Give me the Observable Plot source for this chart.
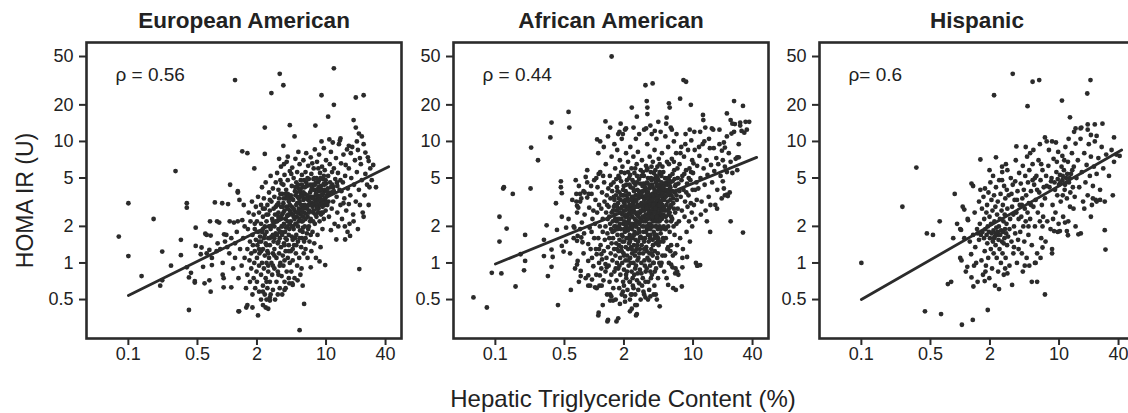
<!DOCTYPE html>
<html><head><meta charset="utf-8">
<script src="https://cdn.jsdelivr.net/npm/d3@7"></script>
<script src="https://cdn.jsdelivr.net/npm/@observablehq/plot@0.6"></script>
<style>
html,body{margin:0;padding:0;background:#fff;overflow:hidden;}
#wrap{position:relative;width:1128px;height:413px;overflow:hidden;font-family:"Liberation Sans",Arial,sans-serif;}
#wrap svg{position:absolute;top:0;max-width:none;}
</style></head><body><div id="wrap"></div>
<script>
const panelTitles = ["European American", "African American", "Hispanic"];
const rhoLabels = ["ρ = 0.56", "ρ = 0.44", "ρ= 0.6"];
const xTicks = [0.1, 0.5, 2, 10, 40];
const yTicks = [0.5, 1, 2, 5, 10, 20, 50];
const xTitle = "Hepatic Triglyceride Content (%)";
const yTitle = "HOMA IR (U)";

const euroFit = [[0.1, 0.54], [43, 6.2]];
const afrFit = [[0.1, 0.98], [44, 7.4]];
const hispFit = [[0.1, 0.5], [43, 8.5]];

const euroPoints = [
[12,40],[3.4,36],[1.2,32],[3.7,29],[2.8,25],[9,24],[24,24],[20,23],[12,20],[10.5,16],[19,15],[4.3,13.6],[7.8,13.5],[2.4,13],[20,13],[21.5,11.6],[23,11],[4.8,11],[3.7,9.2],[9,10],[10.8,10.4],[14,10.6],[17,9.2],[1.42,8.3],[1.6,8],[2.4,7.9],[0.3,5.7],[1.88,6],[1.07,4.4],[1.28,3.8],[0.1,3.1],[0.39,3.1],[0.39,2.85],[0.75,3.15],[0.89,3.1],[1.02,3.05],[0.18,2.3],[0.48,1.95],[0.08,1.65],[0.34,1.55],[0.1,1.14],[0.22,1.24],[0.34,1.16],[0.27,0.95],[0.136,0.78],[0.21,0.65],[0.22,0.72],[0.41,0.41],[0.41,0.76],[0.47,0.69],[0.57,0.93],[0.68,0.58],[0.66,0.72],[0.54,1.18],[1.3,0.40],[1.6,0.45],[1.8,0.43],[2.05,0.37],[2.45,0.43],[2.7,0.49],[3.8,0.6],[4.6,0.66],[5.4,0.28],[6,0.46],[21.7,0.89],[9.8,0.96],[8.6,1.03],[7,0.92],[15.6,1.56],[17.5,1.67],[12.7,1.56],[11.2,1.86],[27,3],[32,4.2],[30,6.4],[27,6.9],[25,8.1],[19,2.2],[24,2.4],[17,3.05],[15,3.1],
[1.28,3.9],[1.33,3.3],[1.47,3.0],[0.67,2.2],[0.79,2.2],[0.83,2.15],[1.06,2.2],[1.17,2.15],[1.28,2.2],[1.42,2.25],[0.6,1.74],[0.62,1.7],[0.68,1.68],[0.93,1.72],[0.98,1.7],[0.48,1.38],[0.55,1.34],[0.39,0.92],[0.43,0.83],[0.47,0.71],[0.7,0.96],[0.9,1.0],[0.9,0.8],[0.92,0.75],[1.1,0.63],[0.92,0.63],[0.59,0.68],[1.32,0.4],[1.56,0.43],[0.62,1.2],[0.66,1.28],[0.7,1.1],[0.78,1.25],[0.8,1.45],[0.85,1.3],[0.95,1.5],[1.0,1.35],[1.05,1.2],[1.1,1.6],[1.15,0.9],[1.2,1.1],[1.2,1.45],[1.25,1.8],[1.3,0.75],[1.35,1.3],[1.4,0.95],[1.45,1.6],[1.5,2.0],[1.5,1.1],
[1.55,0.62],[1.6,0.8],[1.6,1.3],[1.62,1.9],[1.65,2.6],[1.68,1.05],[1.7,0.7],[1.7,1.5],[1.72,2.2],[1.75,0.9],[1.75,1.2],[1.78,3.2],[1.8,0.55],[1.8,1.7],[1.82,1.4],[1.85,2.5],[1.85,0.75],[1.88,1.0],[1.9,1.9],[1.9,1.25],[1.92,0.62],[1.95,2.9],[1.95,1.55],[1.98,0.85],[2.0,2.2],[2.0,1.1],[2.0,0.7],[2.02,1.4],[2.05,3.5],[2.05,1.8],[2.1,0.95],[2.1,2.6],[2.1,0.58],[2.12,1.2],[2.15,1.65],
[2.2,0.5],[2.2,0.8],[2.2,1.5],[2.2,2.1],[2.2,3.0],[2.25,4.2],[2.25,1.0],[2.25,1.8],[2.3,0.65],[2.3,1.3],[2.3,2.4],[2.3,0.45],[2.35,0.9],[2.35,1.6],[2.35,3.4],[2.4,2.0],[2.4,1.15],[2.4,0.55],[2.4,2.8],[2.45,0.75],[2.45,1.45],[2.45,4.6],[2.5,1.0],[2.5,2.2],[2.5,0.5],[2.5,1.8],[2.55,0.62],[2.55,3.0],[2.55,1.25],[2.6,0.85],[2.6,2.5],[2.6,1.6],[2.6,0.42],[2.65,1.1],[2.65,3.8],[2.65,2.0],[2.7,0.7],[2.7,1.4],[2.7,2.7],[2.75,0.55],[2.75,1.9],[2.75,5.2],[2.8,1.0],[2.8,3.2],[2.8,1.65],[2.85,0.8],[2.85,2.3],[2.9,1.2],[2.9,4.1],[2.9,0.6],[2.95,1.5],[2.95,2.8],[3.0,0.9],[3.0,2.0],[3.0,3.5],[3.0,1.3],[3.05,0.5],[3.05,2.5],[3.1,1.75],[3.1,4.6],
[3.15,0.7],[3.15,1.1],[3.2,2.2],[3.2,3.0],[3.2,5.5],[3.25,1.45],[3.25,0.85],[3.3,2.6],[3.3,1.9],[3.3,4.0],[3.35,1.2],[3.35,3.4],[3.4,0.62],[3.4,1.6],[3.4,2.3],[3.45,4.8],[3.45,1.0],[3.5,2.9],[3.5,1.35],[3.5,6.2],[3.55,2.0],[3.55,0.78],[3.6,3.7],[3.6,1.7],[3.6,2.5],[3.65,1.15],[3.7,4.4],[3.7,3.1],[3.7,0.95],[3.75,2.1],[3.75,1.45],[3.8,5.3],[3.8,2.7],[3.8,0.7],[3.85,1.8],[3.9,3.4],[3.9,1.25],[3.9,2.3],[3.95,4.0],[4.0,0.85],[4.0,1.55],[4.0,2.9],[4.0,6.8],[4.05,2.0],[4.1,3.7],[4.1,1.1],[4.1,4.8],[4.15,2.5],[4.2,1.4],[4.2,3.2],[4.2,0.75],[4.25,1.9],[4.3,5.7],[4.3,2.7],[4.3,1.0],[3.25,0.55],[3.6,0.55],[3.9,0.62],[4.25,0.68],[3.35,7.2],[3.75,6.5],[4.1,7.5],[3.2,1.7],[3.45,3.7],[3.65,2.9],[3.95,1.95],[4.15,3.4],[3.3,2.35],[3.55,4.5],[4.05,2.45],
[4.4,1.25],[4.4,2.2],[4.4,3.6],[4.45,0.85],[4.5,4.3],[4.5,1.65],[4.5,2.9],[4.55,6.1],[4.6,1.05],[4.6,2.5],[4.65,3.3],[4.7,1.9],[4.7,5.0],[4.75,1.4],[4.8,2.7],[4.8,0.75],[4.85,3.9],[4.9,2.1],[4.9,7.2],[4.95,1.2],[5.0,3.0],[5.0,4.6],[5.0,1.7],[5.05,2.4],[5.1,0.95],[5.1,5.6],[5.15,3.5],[5.2,1.5],[5.2,2.0],[5.25,8.2],[5.3,2.8],[5.3,4.1],[5.35,1.1],[5.4,3.2],[5.4,6.5],[5.45,1.85],[5.5,2.5],[5.5,0.8],[5.55,4.8],[5.6,1.35],[5.6,3.7],[5.65,2.2],[5.7,5.3],[5.7,1.6],[5.75,2.9],[5.8,0.65],[5.8,4.2],[5.85,1.95],[5.9,3.3],[5.9,7.0],[5.95,1.2],[6.0,2.6],[6.0,4.8],[6.0,1.5],[4.45,5.4],[4.65,2.0],[4.85,1.6],[5.05,3.8],[5.25,2.6],[5.45,3.9],[5.65,0.9],[5.85,2.4],[4.55,0.68],[5.15,0.72],[5.75,3.6],
[6.1,2.0],[6.1,3.7],[6.2,1.3],[6.2,5.6],[6.3,2.9],[6.3,8.0],[6.4,1.75],[6.4,4.3],[6.5,2.4],[6.5,1.1],[6.6,3.3],[6.6,6.3],[6.7,2.0],[6.7,4.9],[6.8,1.5],[6.8,2.7],[6.9,3.8],[7.0,7.4],[7.0,2.3],[7.1,1.25],[7.1,5.4],[7.2,3.1],[7.3,1.8],[7.3,4.4],[7.4,2.6],[7.5,6.0],[7.5,3.5],[7.6,1.45],[7.7,2.1],[7.7,8.6],[7.8,4.0],[7.9,3.0],[7.9,1.1],[8.0,5.0],[8.0,2.4],[8.1,6.8],[8.2,3.4],[8.2,1.7],[8.3,4.6],[8.4,2.8],[8.5,3.9],[8.5,7.8],[8.6,2.2],[8.7,5.5],[8.8,3.2],[8.8,1.35],[8.9,4.3],[9.0,2.6],[9.1,6.2],[9.1,3.6],[9.2,1.9],[9.3,4.9],[9.4,3.0],[9.5,8.8],[9.5,2.3],[9.6,4.0],[9.7,5.8],[9.8,3.4],[9.9,2.7],[10.0,4.5],[10.0,7.0],[6.25,2.55],[6.85,3.45],[7.45,4.9],[8.05,2.9],[8.65,3.0],[9.25,3.3],[9.85,3.9],[7.25,6.6],[8.35,6.0],
[10.3,3.0],[10.5,5.2],[10.7,2.4],[10.9,6.5],[11.0,3.7],[11.2,8.2],[11.4,2.8],[11.6,4.4],[11.8,3.2],[12.0,6.0],[12.2,2.1],[12.4,4.9],[12.6,7.3],[12.8,3.5],[13.0,2.6],[13.2,5.5],[13.5,9.5],[13.7,4.0],[14.0,3.0],[14.2,6.6],[14.5,2.3],[14.8,4.6],[15.0,7.8],[15.3,3.4],[15.6,5.2],[16.0,2.7],[16.3,8.6],[16.6,4.1],[17.0,6.0],[17.3,2.1],[17.6,3.6],[18.0,5.0],[18.4,9.0],[18.8,2.5],[19.2,4.4],[19.6,7.0],[20,3.2],[10.4,4.1],[11.5,5.6],[12.9,4.6],[14.3,3.9],[15.8,6.4],[17.8,8.0],[13.3,2.0],[15.5,2.0],[16.5,1.8],[11.7,9.8],[13.8,10.2],
[20.5,5.6],[21,8.5],[21.5,4.0],[22,3.0],[22.5,6.5],[23,4.8],[23.5,2.6],[24,9.5],[24.5,3.6],[25,5.4],[26,4.4],[26.5,7.4],[27.5,4.2],[28,6.0],[29,4.8],[20.5,10],[22,7.3],[21,1.9],
[2.1,1.5],[2.3,1.9],[2.5,2.5],[2.7,1.6],[2.9,2.2],[3.1,2.9],[3.3,1.5],[3.5,2.4],[3.7,3.4],[3.9,1.6],[4.1,2.2],[4.3,3.0],[4.5,2.0],[4.7,2.8],[4.9,3.6],[5.1,2.6],[5.3,3.4],[5.5,4.0],[5.7,2.6],[5.9,3.8],[6.1,3.0],[6.3,4.6],[6.5,3.6],[6.7,2.6],[6.9,4.4],[7.1,3.5],[7.3,2.9],[7.5,4.0],[7.7,3.3],[7.9,4.6],[8.1,3.6],[8.3,2.6],[8.5,4.8],[8.7,3.4],[8.9,2.5],[9.1,4.0],[9.3,3.7],[9.5,5.2],[9.7,3.0],[9.9,4.8],[10.2,3.6],[10.6,3.2],[11.0,4.6],[11.4,3.8],[11.8,4.2],[2.4,1.7],[2.8,2.0],[3.2,2.5],[3.6,2.0],[4.0,3.5],[4.4,2.6],[4.8,2.3],[5.2,4.4],[5.6,3.0],[6.0,3.4],[6.4,2.8],[6.8,3.2],[7.2,4.2],[7.6,5.0],[8.0,3.1],[8.4,4.2],[8.8,5.0],[9.2,2.9],[9.6,4.4],[10.0,3.2],[3.0,1.6],[3.4,1.8],[3.8,1.4],[4.2,1.7],[4.6,1.3],[5.0,1.4],[5.4,1.6],[5.8,1.8],[6.2,1.6],[2.6,1.2],[2.9,0.95],[3.3,0.8],[2.5,0.7],[2.3,0.58],[2.7,0.52],
[1.9,2.1],[2.1,1.3],[2.3,2.8],[2.5,1.4],[2.7,3.3],[2.9,1.7],[3.1,2.2],[3.3,3.1],[3.5,1.8],[3.7,2.6],[3.9,3.7],[4.1,2.8],[4.3,2.1],[4.5,3.4],[4.7,2.4],[4.9,4.2],[5.1,3.1],[5.3,2.2],[5.5,3.5],[5.7,4.4],[5.9,2.8],[6.1,4.2],[6.3,3.4],[6.5,5.0],[6.7,3.0],[6.9,2.2],[7.1,4.0],[7.3,3.4],[7.5,2.7],[7.7,4.4],[7.9,3.7],[8.1,2.8],[8.3,4.0],[8.5,3.3],[8.7,4.0],[8.9,3.6],[9.1,3.2],[9.3,2.6],[9.5,4.5],[9.7,3.4],[2.2,1.25],[2.6,0.95],[3.0,1.15],[3.4,0.95],[3.8,1.05],[4.2,1.25],[4.6,1.55],[5.0,2.1],[5.4,2.3],[5.8,2.2],[6.2,2.3],[6.6,1.9],[7.0,1.7],[7.4,2.2],[7.8,2.5],[10.5,3.8],[11.2,4.2],[12.0,3.9],[13.0,4.3],[14.0,4.8]
];

const afrPoints = [
[1.5,50],[3.3,29],[3.9,30],[8,32],[8.5,31],[7.4,22.5],[5.7,20.6],[5.8,19],[3.4,21.5],[3.45,19],[2.4,19],[9.5,20],[26,21.5],[32,19.6],[2.7,16],[3.45,16.8],[5.4,15.7],[12.6,16.5],[12.7,15],[22,17],[24,15],[26.5,13.9],[30,14.3],[34,14.5],[31,12.2],[24.5,11.6],[1.3,14.6],[1.07,10.4],[1.15,10],[1.85,14],[1.8,12],[1.95,11.5],[2.1,12.8],[0.37,14.3],[0.36,10.8],[0.55,17.5],[0.56,13],[0.23,8.9],[0.27,7],[0.12,4.1],[0.122,4.2],[0.15,3.7],[0.227,4.1],[0.11,2.4],[0.13,1.92],[0.11,1.5],[0.2,1.7],[0.31,1.55],[0.33,2.04],[0.41,3.1],[0.46,4.7],[0.46,4.2],[0.47,3.75],[0.47,2.4],[0.42,1.87],[0.52,1.95],[0.37,1.29],[0.38,1.12],[0.31,1.14],[0.18,1.18],[0.2,1.04],[0.195,0.87],[0.16,0.64],[0.092,0.83],[0.115,0.82],[0.06,0.52],[0.082,0.43],[0.34,0.78],[0.37,0.93],[0.43,0.45],[0.47,1.38],[0.49,1.24],[0.67,0.97],[0.73,0.78],[0.63,1.95],[0.68,1.67],[0.74,1.62],[0.79,1.75],[0.66,3.2],[0.74,3.4],[0.67,2.95],[0.72,3.7],[0.8,3.8],[0.65,4.8],[0.82,5.1],[0.85,4.6],[0.88,3.7],[0.93,4.3],[1.11,5.4],[1.23,5.2],[1.12,1.3],[1.18,1.18],[1.3,0.98],[1.34,0.92],[0.87,0.79],[0.87,0.65],[0.95,0.73],[1.02,0.63],[1.13,0.65],[1.11,0.39],[1.38,0.34],[1.68,0.33],[1.75,0.35],[1.45,0.55],[1.49,0.53],[1.55,0.49],[1.82,0.46],[2.05,0.53],[2.3,0.5],[2.4,0.55],[2.7,0.45],[2.65,0.37],[3.3,0.52],[3.7,0.53],[4.2,0.55],[4.6,0.44],[5.6,0.66],[6.3,0.62],[6.7,0.6],[7.7,0.64],[6,0.97],[6.2,0.92],[6.6,0.82],[7.1,0.8],[7.8,0.92],[8.7,1.12],[11.1,0.95],[11.8,0.96],[14.9,1.8],[24,2.2],[32,1.78],[20,4.7],[20.5,4.1],[21,3.6],[22,3.65],[22.5,3.55],[19.6,8.4],[21,8.9],[28,7.4],[29,7.4],
[0.52,1.5],[0.55,2.3],[0.57,1.2],[0.6,3.3],[0.62,1.6],[0.64,0.9],[0.66,3.7],[0.67,1.52],[0.67,2.6],[0.68,1.04],[0.69,2.85],[0.7,4.3],[0.72,3.2],[0.72,1.9],[0.73,0.86],[0.75,2.15],[0.76,1.48],[0.78,1.2],[0.8,2.5],[0.82,0.75],[0.85,3.45],[0.87,1.43],[0.87,1.04],[0.89,2.85],[0.9,1.95],[0.91,0.65],[0.92,1.3],[0.94,3.7],[0.94,1.8],[0.96,2.3],[0.98,2.7],[0.98,0.94],[1.0,1.6],[1.0,4.8],[0.85,5.8],[0.58,0.6],[0.7,0.7],[0.95,1.1],[0.62,2.0],[0.78,3.9],
[1.02,2.1],[1.03,3.3],[1.04,1.3],[1.05,0.8],[1.06,1.18],[1.06,0.62],[1.07,2.6],[1.08,4.2],[1.1,1.6],[1.1,0.37],[1.12,3.0],[1.12,1.0],[1.14,0.79],[1.14,2.0],[1.15,5.6],[1.16,1.4],[1.18,2.8],[1.18,0.9],[1.19,0.65],[1.2,1.07],[1.2,3.8],[1.22,1.8],[1.22,2.3],[1.24,0.72],[1.25,1.25],[1.26,4.6],[1.27,3.2],[1.28,1.55],[1.3,2.0],[1.3,0.85],[1.31,6.5],[1.32,2.6],[1.33,1.1],[1.34,3.6],[1.35,0.55],[1.36,1.75],[1.36,0.33],[1.37,2.3],[1.38,1.35],[1.39,4.1],[1.4,0.95],[1.4,2.9],[1.42,1.6],[1.43,0.7],[1.44,5.2],[1.45,0.49],[1.45,2.1],[1.46,3.4],[1.47,1.2],[1.48,1.9],[1.49,0.8],[1.5,2.6],[1.5,7.5],[1.5,1.45],[1.1,8.0],[1.25,9.0],[1.38,11],[1.45,13],[1.22,0.45],[1.05,5.0],
[1.52,3.9],[1.53,1.05],[1.54,2.2],[1.55,1.6],[1.56,0.62],[1.57,4.6],[1.58,2.9],[1.59,1.3],[1.6,0.85],[1.6,3.3],[1.61,1.85],[1.62,2.5],[1.63,6.0],[1.64,1.15],[1.65,0.5],[1.65,2.0],[1.66,3.6],[1.67,1.45],[1.68,0.72],[1.69,2.7],[1.7,4.2],[1.7,1.0],[1.71,8.5],[1.72,1.7],[1.73,2.3],[1.74,3.1],[1.75,0.9],[1.76,5.2],[1.77,1.25],[1.78,2.0],[1.79,0.62],[1.8,3.8],[1.8,1.55],[1.81,2.6],[1.82,7.0],[1.83,1.1],[1.84,0.8],[1.85,3.3],[1.86,1.9],[1.87,4.7],[1.88,1.35],[1.89,2.3],[1.9,0.55],[1.9,10.5],[1.91,2.9],[1.92,1.0],[1.93,6.2],[1.94,1.65],[1.95,3.6],[1.96,0.7],[1.97,2.1],[1.98,1.2],[1.99,4.3],[2.0,2.7],[2.0,0.88],[2.01,1.5],[2.02,3.1],[2.03,5.5],[2.04,1.8],[2.05,0.48],[2.06,2.4],[2.07,1.05],[2.08,3.9],[2.09,1.35],[2.1,8.0],[2.1,2.0],[2.11,0.75],[2.12,2.9],[2.13,1.6],[2.14,4.8],[2.15,1.15],[2.16,2.4],[2.17,0.6],[2.18,3.4],[2.19,1.85],[2.2,6.8],[2.2,1.3],[1.75,11.5],[2.05,12.5],[1.6,9.5],
[2.22,2.2],[2.23,0.95],[2.24,3.7],[2.25,1.45],[2.26,5.0],[2.27,2.6],[2.28,0.7],[2.29,1.7],[2.3,3.0],[2.31,1.1],[2.32,9.0],[2.33,2.0],[2.34,4.2],[2.35,0.55],[2.36,1.35],[2.37,2.8],[2.38,6.0],[2.39,0.85],[2.4,1.9],[2.41,3.5],[2.42,1.2],[2.43,2.4],[2.44,4.8],[2.45,1.6],[2.46,0.65],[2.47,3.1],[2.48,2.1],[2.49,7.5],[2.5,1.0],[2.51,2.7],[2.52,1.4],[2.53,3.9],[2.54,0.8],[2.55,5.5],[2.56,1.8],[2.57,2.3],[2.58,1.15],[2.59,3.3],[2.6,0.45],[2.61,4.4],[2.62,1.55],[2.63,2.9],[2.64,10.5],[2.65,0.95],[2.66,2.0],[2.67,3.6],[2.68,1.3],[2.69,6.5],[2.7,2.5],[2.71,0.72],[2.72,1.75],[2.73,4.0],[2.74,1.05],[2.75,3.0],[2.76,2.2],[2.77,8.2],[2.78,1.5],[2.79,0.6],[2.8,3.4],[2.82,1.9],[2.84,4.9],[2.86,1.2],[2.88,2.6],[2.9,0.88],[2.92,3.8],[2.94,1.65],[2.96,5.8],[2.98,2.3],[3.0,1.0],[3.0,3.1],[3.02,1.4],[3.04,7.0],[3.06,2.0],[3.08,4.3],[3.1,0.75],[3.1,2.7],[3.12,1.2],[3.14,3.5],[3.16,1.8],[3.18,5.2],[3.2,2.4],[3.2,12.5],[2.5,13],[2.85,11.5],[2.4,0.42],[2.95,0.5],[3.15,0.58],[2.3,0.4],[2.7,0.38],
[3.22,1.05],[3.24,3.0],[3.26,1.6],[3.28,4.5],[3.3,2.2],[3.32,0.85],[3.34,6.3],[3.36,1.35],[3.38,2.8],[3.4,3.8],[3.42,1.9],[3.44,9.5],[3.46,1.1],[3.48,2.5],[3.5,5.0],[3.52,0.7],[3.54,3.3],[3.56,1.5],[3.58,2.1],[3.6,4.1],[3.62,1.2],[3.64,7.5],[3.66,2.7],[3.68,0.95],[3.7,3.6],[3.72,1.7],[3.74,5.6],[3.76,2.3],[3.78,1.3],[3.8,3.0],[3.82,11.5],[3.84,0.8],[3.86,4.4],[3.88,2.0],[3.9,1.55],[3.92,6.8],[3.94,2.6],[3.96,1.0],[3.98,3.4],[4.0,1.8],[4.02,4.9],[4.04,2.3],[4.06,0.65],[4.08,8.5],[4.1,1.25],[4.12,3.0],[4.14,2.0],[4.16,5.8],[4.18,1.45],[4.2,3.8],[4.22,0.9],[4.24,2.6],[4.26,10.5],[4.28,1.7],[4.3,4.3],[4.32,2.2],[4.34,1.1],[4.36,6.2],[4.38,3.2],[4.4,1.9],[4.42,0.75],[4.44,2.8],[4.46,4.8],[4.48,1.4],[4.5,7.2],[4.52,2.4],[4.54,3.6],[4.56,1.0],[4.58,5.4],[4.6,2.0],[3.35,12.8],[3.7,13.5],[4.1,12.2],[4.45,14.5],[3.5,0.5],[4.0,0.55],[4.3,0.5],[3.6,0.6],[3.3,4.0],[3.55,3.0],[3.85,3.5],[4.05,3.7],[4.35,3.0],[3.45,2.3],[3.75,2.5],[4.15,2.4],[4.55,2.6],
[4.65,3.0],[4.7,1.5],[4.75,4.2],[4.8,2.5],[4.85,8.0],[4.9,1.15],[4.95,3.4],[5.0,5.6],[5.05,2.0],[5.1,0.85],[5.15,3.9],[5.2,2.7],[5.25,11.0],[5.3,1.6],[5.35,4.6],[5.4,2.2],[5.45,6.8],[5.5,1.3],[5.55,3.2],[5.6,9.0],[5.65,2.5],[5.7,1.0],[5.75,4.0],[5.8,1.8],[5.85,5.2],[5.9,2.9],[5.95,13.0],[6.0,1.4],[6.05,3.6],[6.1,7.2],[6.15,2.3],[6.2,4.7],[6.25,1.15],[6.3,3.1],[6.35,2.0],[6.4,10.0],[6.45,5.8],[6.5,1.7],[6.55,3.8],[6.6,2.6],[6.65,0.9],[6.7,4.4],[6.75,8.0],[6.8,2.1],[6.85,3.3],[6.9,1.4],[6.95,6.0],[7.0,2.8],[4.7,12.0],[5.35,14.0],[6.1,12.5],[6.8,11.5],[5.0,2.9],[5.5,4.4],[6.0,2.4],[6.5,4.9],[4.9,6.2],[5.7,6.5],[6.4,6.8],[5.2,1.9],[5.9,1.25],[6.6,1.2],[4.8,1.0],[5.4,0.75],[6.9,0.85],[5.1,3.3],[5.8,3.6],[6.3,3.4],[4.95,4.5],[5.65,5.0],[6.2,5.4],
[7.1,4.5],[7.2,2.2],[7.3,6.5],[7.4,1.6],[7.5,3.5],[7.6,9.0],[7.7,2.7],[7.8,5.2],[7.9,1.3],[8.0,4.0],[8.1,7.5],[8.2,2.4],[8.3,3.2],[8.4,11.5],[8.5,5.8],[8.6,1.8],[8.7,4.5],[8.8,2.9],[8.9,8.5],[9.0,3.6],[9.1,2.2],[9.2,6.0],[9.3,1.5],[9.4,4.8],[9.5,3.1],[9.6,10.2],[9.7,2.6],[9.8,7.0],[9.9,4.0],[10.0,5.5],[10.2,3.0],[10.4,8.5],[10.6,2.3],[10.8,4.6],[11.0,6.3],[7.25,3.9],[7.65,4.8],[8.15,5.4],[8.55,3.8],[9.05,5.0],[9.55,5.6],[10.1,6.6],[10.5,4.0],[7.45,8.0],[8.35,9.5],[9.25,12.5],[10.3,12.0],[7.8,1.1],[10.7,1.0],[11.0,0.95],[9.8,2.0],[10.9,3.3],
[11.3,4.1],[11.6,7.6],[11.9,5.0],[12.2,3.2],[12.5,9.5],[12.8,6.0],[13.1,4.4],[13.4,2.7],[13.7,7.0],[14.0,5.3],[14.4,3.5],[14.8,8.8],[15.2,6.4],[15.6,4.6],[16.0,12.5],[16.4,5.7],[16.8,3.0],[17.2,7.3],[17.6,4.0],[18.0,6.5],[18.5,9.5],[19.0,5.2],[19.5,3.4],[20,7.0],[11.8,12.0],[13.3,13.0],[14.5,10.5],[15.5,12.8],[12.0,2.5],[13.8,2.2],[15.0,3.0],[17.5,2.8],[18.5,12.5],[11.5,9.0],[13.0,10.0],[16.2,8.8],
[21,6.2],[22,5.6],[23,8.0],[24,6.8],[25,5.5],[26,12.0],[27,7.2],[29,9.5],[30,13.5],[33,11.8],[35,12.5],[37,14.5],[22,11],[25,14],[20.5,9.8],[23.5,3.8],[28,5.8],
[1.55,2.7],[1.62,3.0],[1.68,2.2],[1.72,3.9],[1.78,1.4],[1.83,2.8],[1.88,3.6],[1.93,1.5],[1.98,3.2],[2.03,2.2],[2.08,2.9],[2.13,3.6],[2.18,1.6],[2.23,2.9],[2.28,4.4],[2.33,1.6],[2.38,3.3],[2.43,2.0],[2.48,4.1],[2.53,1.7],[2.58,2.6],[2.63,3.6],[2.68,2.2],[2.73,1.4],[2.78,2.9],[2.83,3.9],[2.88,1.8],[2.93,2.6],[2.98,3.5],[3.03,1.6],[3.08,2.4],[3.13,4.5],[3.18,2.0],[3.23,2.7],[3.28,3.4],[3.33,1.8],[3.38,2.3],[3.43,4.6],[3.48,3.0],[3.53,1.9],[3.58,2.6],[3.63,3.5],[3.68,1.6],[3.73,4.2],[3.78,2.0],[3.83,2.7],[3.88,3.7],[3.93,1.4],[3.98,2.2],[4.03,3.1],[4.08,4.0],[4.13,1.7],[4.18,2.7],[4.23,3.4],[4.28,2.0],[4.33,5.0],[4.38,2.5],[4.43,1.6],[4.48,3.3],[4.53,4.1],[4.58,2.2],[4.63,2.8],[4.68,3.6],[4.73,1.9],[4.78,5.2],[4.83,2.3],[4.88,3.0],[4.93,4.0],[4.98,1.6],[5.03,2.5],[5.1,3.6],[5.2,4.4],[5.3,2.4],[5.4,3.0],[5.5,5.0],[5.6,2.0],[5.7,2.8],[5.8,4.5],[5.9,3.3],[6.0,2.2],[1.6,2.0],[1.7,2.9],[1.8,2.3],[1.9,1.7],[2.0,3.6],[2.1,2.5],[2.2,1.9],[2.3,2.5],[2.4,2.7],[2.5,3.5],[2.6,2.1],[2.7,4.6],[2.8,2.4],[2.9,3.0],[3.0,2.2],[3.1,3.9],[3.2,1.5],[3.3,2.8],[3.4,2.0],[3.5,3.8],[3.6,2.9],[3.7,1.9],[3.8,4.8],[3.9,2.8],[4.0,2.4],[4.1,3.5],[4.2,2.2],[4.3,3.6],[4.4,2.4],[4.5,3.9],[4.6,3.2],[2.2,5.6],[2.6,6.0],[3.0,5.2],[3.4,5.8],[3.8,6.2],[4.2,5.2],[4.6,6.5],[1.8,5.0],[2.4,1.3],[2.9,1.3],[3.4,1.25],[3.9,1.15],[4.4,1.2],[1.9,1.25],[2.2,1.05],[2.6,0.9],[3.0,0.82],[3.3,0.7],[2.0,0.65],[2.45,0.75],[2.85,0.68],[3.7,0.85],[1.65,0.9],[2.1,0.8],[2.35,1.0],[2.8,1.1],[3.25,0.95],[3.6,1.05],[4.0,1.0],[4.7,0.95],[5.2,1.15],[5.6,1.35],
[1.35,3.0],[1.42,2.4],[1.48,4.4],[1.53,1.8],[1.58,3.5],[1.63,2.3],[1.67,4.9],[1.73,1.9],[1.77,3.4],[1.82,2.1],[1.87,5.6],[1.92,2.5],[1.96,4.0],[2.01,1.9],[2.06,3.3],[2.11,4.4],[2.16,2.1],[2.21,3.2],[2.26,2.3],[2.31,5.3],[2.36,2.1],[2.41,3.0],[2.46,2.6],[2.51,4.6],[2.56,2.9],[2.61,2.0],[2.66,3.2],[2.71,5.2],[2.76,2.6],[2.81,3.6],[2.86,2.1],[2.91,4.5],[2.96,2.7],[3.01,3.7],[3.06,2.9],[3.11,5.6],[3.16,2.2],[3.21,3.3],[3.26,4.2],[3.31,2.5],[3.36,3.6],[3.41,2.8],[3.46,6.0],[3.51,3.4],[3.56,2.4],[3.61,4.4],[3.66,3.1],[3.71,2.1],[3.76,5.0],[3.81,3.3],[3.86,2.4],[3.91,4.2],[3.96,3.0],[4.01,5.5],[4.06,2.6],[4.11,3.9],[4.16,2.8],[4.21,4.6],[4.26,3.3],[4.31,2.4],[4.36,5.0],[4.41,3.5],[4.46,2.2],[4.51,4.4],[4.56,3.0],[4.61,5.6],[4.66,2.3],[4.71,3.8],[4.76,3.2],[4.81,4.6],[4.86,2.7],[4.91,3.7],[4.96,2.4],[5.01,4.2],[5.1,2.8],[5.2,5.0],[5.3,3.5],[5.4,4.0],[5.5,2.7],[5.6,3.8],[5.7,4.8],[5.8,2.6],[5.9,4.2],[6.0,3.0],[6.2,3.9],[6.4,2.8],[6.6,4.3],[6.8,3.6],[7.0,5.0],[1.7,1.3],[2.0,1.15],[2.3,1.5],[2.6,1.25],[2.9,1.6],[3.2,1.3],[3.5,1.7],[3.8,1.2],[4.1,1.6],[4.4,1.5],[4.7,1.75],[5.0,1.5],[5.3,1.9],[1.8,0.95],[2.15,0.85],[2.5,0.62],[2.75,0.82],[3.05,0.65],[3.4,0.9],[3.75,0.75],[4.1,0.85],[2.3,0.7],[1.95,0.58],[2.6,0.55],[3.2,0.55]
];

const hispPoints = [
[0.1,1.0],[0.26,2.9],[0.36,6.1],[0.46,1.75],[0.53,1.7],[0.62,2.2],[0.44,0.4],[0.64,0.38],[0.75,0.67],[0.81,0.7],[0.85,1.6],[0.88,3.7],[1.04,0.31],[1.34,0.34],[1.9,0.41],[2.2,24],[3.4,36],[5.4,31],[6.3,32],[4.8,19.5],[10.7,21.7],[19.3,24.8],[20.8,32],[12.9,15.8],[19.5,13.8],[23,13.8],[27.5,14],[14.7,12.8],[16.5,12.8],[21,11.3],[24,11.1],[36,10.8],[35,3.6],[29,1.86],[29.5,1.29],[7.2,10.8],[7.5,10],[8.5,10],[3.7,9.1],[5.1,8],[1.6,7.1],[2.3,7.4],[1.98,5.8],[2.65,6.2],[1.3,4.5],[1.35,4.3],[1.06,2.9],[1.1,2.75],[1.19,2.3],[1.0,1.9],[1.0,1.1],[1.03,1.05],[1.18,0.93],[1.14,0.85],[1.3,0.76],[1.36,0.64],[1.77,0.71],[1.8,0.85],[2.47,0.61],[3.35,0.66],[3.0,0.82],[5.3,0.7],[6.0,0.7],[7.2,0.55],[8.5,1.2],[5.7,1.0],[4.5,0.95],[11.5,2.15],[12,1.83],[14.7,2.0],[16.6,1.75],[8.9,1.83],[9.7,1.8],[10.2,1.83],[41,7.6],[6.8,1.34],[15.7,1.72],[12.3,1.69],
[1.29,1.18],[1.2,2.25],[1.1,1.6],[1.02,1.87],[0.93,2.1],[1.25,1.5],[1.35,1.7],[1.4,2.6],[1.45,1.0],[1.5,1.75],[1.55,3.2],[1.5,0.7],[1.42,1.35],[1.58,2.1],[1.38,0.95],[1.55,1.55],[1.6,4.0],[1.48,1.9],
[1.62,1.7],[1.64,1.05],[1.66,2.8],[1.68,1.8],[1.7,0.8],[1.72,3.5],[1.74,1.6],[1.75,2.3],[1.77,1.25],[1.78,4.1],[1.8,1.9],[1.82,0.95],[1.84,2.6],[1.85,1.7],[1.87,3.0],[1.88,1.45],[1.9,2.0],[1.92,1.1],[1.93,3.8],[1.95,1.8],[1.97,0.75],[1.98,2.4],[2.0,1.6],[2.02,4.6],[2.04,1.3],[2.05,2.1],[2.07,3.3],[2.08,1.75],[2.1,0.9],[2.12,2.7],[2.14,1.5],[2.15,5.2],[2.17,1.85],[2.18,1.2],[2.2,3.6],[2.22,2.2],[2.24,1.65],[2.25,0.65],[2.27,2.9],[2.28,1.4],[2.3,4.2],[2.32,1.95],[2.34,1.1],[2.36,2.5],[2.38,1.7],[2.4,3.2],[2.42,0.85],[2.44,1.55],[2.46,2.0],[2.48,4.8],[2.5,1.3],[2.3,1.75],[2.2,1.6],[2.4,1.8],
[2.52,2.3],[2.54,1.7],[2.56,3.7],[2.58,1.0],[2.6,1.85],[2.62,2.7],[2.64,1.5],[2.66,5.6],[2.68,1.2],[2.7,3.0],[2.72,1.8],[2.74,2.2],[2.76,0.8],[2.78,4.3],[2.8,1.6],[2.82,2.5],[2.84,1.9],[2.86,3.4],[2.88,1.1],[2.9,6.5],[2.92,1.75],[2.94,2.1],[2.96,4.0],[2.98,1.4],[3.0,2.8],[3.05,1.65],[3.1,3.6],[3.15,0.95],[3.2,2.3],[3.25,5.0],[3.3,1.5],[3.35,2.9],[3.4,4.4],[3.45,1.2],[3.5,2.0],[3.55,3.3],[3.6,1.75],[3.65,7.0],[3.7,2.6],[3.75,1.0],[3.8,3.9],[3.85,1.55],[3.9,2.3],[3.95,5.5],[4.0,3.0],[2.65,4.8],[3.0,5.8],[3.3,3.7],[3.6,4.7],[3.9,1.3],[2.75,1.45],[3.15,1.9],[3.45,2.5],[3.75,3.3],[2.85,0.9],[3.5,1.35],
[4.05,1.8],[4.1,4.5],[4.15,2.4],[4.2,1.2],[4.25,3.4],[4.3,6.3],[4.35,2.0],[4.4,4.0],[4.45,1.5],[4.5,2.8],[4.55,5.2],[4.6,2.2],[4.65,3.6],[4.7,1.1],[4.75,7.5],[4.8,2.6],[4.85,4.6],[4.9,1.7],[4.95,3.1],[5.0,5.8],[5.1,2.3],[5.2,3.9],[5.3,1.4],[5.4,6.5],[5.5,2.9],[5.6,4.4],[5.7,2.0],[5.8,3.3],[5.9,5.2],[6.0,1.2],[6.1,2.6],[6.2,7.0],[6.3,3.8],[6.4,2.2],[6.5,4.8],[6.6,1.6],[6.7,3.0],[6.8,5.8],[6.9,2.4],[7.0,4.2],[4.3,0.85],[5.0,0.95],[5.8,1.0],[6.5,1.1],[4.6,9.0],[5.5,8.5],[6.4,9.5],[4.9,2.0],[5.4,4.8],[6.0,4.0],[6.6,6.5],[5.2,3.0],[4.2,3.0],[5.7,5.0],[6.8,2.0],
[7.2,3.4],[7.4,5.2],[7.6,2.2],[7.8,6.3],[8.0,4.2],[8.2,1.9],[8.4,5.0],[8.6,3.0],[8.8,7.2],[9.0,4.6],[9.2,2.6],[9.4,5.6],[9.6,3.6],[9.8,8.2],[10.0,4.4],[10.2,5.3],[10.4,3.2],[10.6,6.2],[10.8,4.8],[11.0,2.4],[11.2,5.8],[11.4,4.0],[11.6,9.0],[11.8,5.0],[12.0,3.4],[12.3,6.8],[12.6,4.6],[12.9,2.9],[13.2,5.4],[13.5,8.0],[13.8,4.2],[14.1,6.2],[14.4,3.5],[14.7,9.6],[15.0,5.0],[7.5,4.3],[8.3,4.7],[9.1,4.0],[9.7,4.9],[10.3,4.6],[10.9,5.2],[11.5,4.4],[12.1,5.4],[12.8,5.0],[13.6,5.8],[8.7,2.3],[9.9,2.1],[10.9,3.6],[12.4,2.2],[14.0,2.8],[7.9,8.5],[9.3,9.8],[10.8,7.6],[12.5,10.5],[14.2,12.0],[7.3,1.5],[8.5,1.3],[13.0,3.8],[11.3,7.0],[9.5,6.8],
[15.5,7.0],[16,4.2],[16.5,10.5],[17,5.6],[17.5,3.2],[18,8.0],[18.5,4.6],[19,6.4],[19.5,3.6],[20,9.5],[20.5,5.2],[21,7.5],[21.5,3.0],[22,4.3],[22.5,6.2],[23,10.0],[23.5,3.3],[24,5.4],[25,7.3],[26,4.0],[27,9.0],[28,6.0],[29,3.2],[30,7.8],[32,5.2],[34,8.5],[36,6.8],[38,7.8],[16.8,13.0],[19.5,12.5],[22,3.4],[24,3.2],[26,3.3],[18,2.8],[21,2.4]
];

const pointSets = [euroPoints, afrPoints, hispPoints];
const fitSets = [euroFit, afrFit, hispFit];

const ink = "#2b2b2b";
const font = "'Liberation Sans', Arial, Helvetica, sans-serif";
const W = 470, H = 413;
const mL = 86, mT = 42, innerW = 315, innerH = 296;
const offsets = [0, 366.5, 733];
const wrap = document.getElementById("wrap");

panelTitles.forEach((title, i) => {
  const marks = [
    Plot.dot(pointSets[i], {x: d => d[0], y: d => d[1], r: 2.4, fill: ink}),
    Plot.line(fitSets[i], {x: d => d[0], y: d => d[1], stroke: ink, strokeWidth: 2.8}),
    Plot.frame({stroke: ink, strokeWidth: 2.6}),
    Plot.axisX(xTicks, {tickSize: 7, stroke: ink, strokeWidth: 2, fill: "none", label: null}),
    Plot.axisY(yTicks, {tickSize: 7, stroke: ink, strokeWidth: 2, fill: "none", label: null}),
    Plot.text(xTicks, {x: d => d, text: d => String(d), frameAnchor: "bottom", lineAnchor: "top", textAnchor: "middle", dy: 9, fontSize: 18, fill: "#222"}),
    Plot.text(yTicks, {y: d => d, text: d => String(d), frameAnchor: "left", lineAnchor: "middle", textAnchor: "end", dx: -13, fontSize: 18, fill: "#222"}),
    Plot.text([title], {text: d => d, frameAnchor: "top", lineAnchor: "top", textAnchor: "middle", dy: -30, fontSize: 22.5, fontWeight: "bold", fill: "#222"}),
    Plot.text([rhoLabels[i]], {text: d => d, frameAnchor: "top-left", lineAnchor: "top", textAnchor: "start", dx: 29, dy: 25, fontSize: 19, fill: "#222"})
  ];
  if (i === 0) marks.push(Plot.text([yTitle], {text: d => d, frameAnchor: "left", rotate: -90, textAnchor: "middle", lineAnchor: "middle", dx: -61, dy: 10, fontSize: 23, fill: "#222"}));
  if (i === 1) marks.push(Plot.text([xTitle], {text: d => d, frameAnchor: "bottom", lineAnchor: "top", textAnchor: "middle", dx: 12, dy: 51, fontSize: 24, fill: "#222"}));
  const chart = Plot.plot({
    width: W, height: H,
    marginLeft: mL, marginTop: mT, marginRight: W - mL - innerW, marginBottom: H - mT - innerH,
    x: {type: "log", domain: [0.0377, 58]},
    y: {type: "log", domain: [0.239, 65.2]},
    style: {fontFamily: font, background: "transparent", color: "#222", overflow: "visible"},
    marks
  });
  chart.style.left = offsets[i] + "px";
  chart.style.top = "0px";
  chart.style.position = "absolute";
  wrap.appendChild(chart);
});
</script></body></html>
